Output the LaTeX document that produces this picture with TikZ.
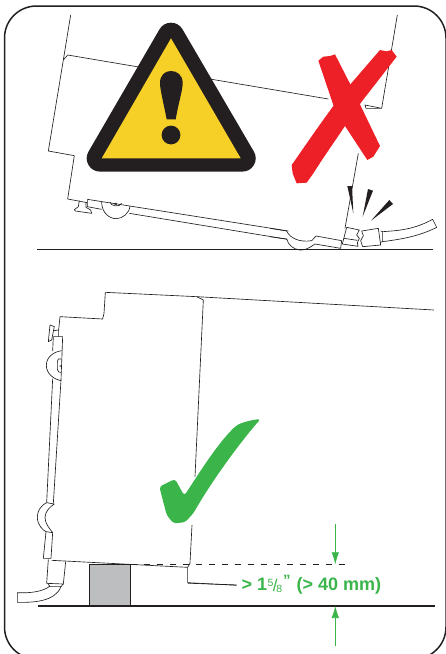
\documentclass[tikz,border=0pt]{standalone}
\usepackage{fontspec}
\setmainfont{Liberation Sans}
\usepackage{xcolor}
\usetikzlibrary{arrows.meta}
\definecolor{inkblack}{HTML}{231F20}
\definecolor{warnyellow}{HTML}{F6D026}
\definecolor{crossred}{HTML}{EE2027}
\definecolor{checkgreen}{HTML}{3BB54A}
\definecolor{blockgrey}{HTML}{BCBEC0}
\tikzset{
  crop/.style 2 args={shift={(#1,#2)},scale=1/3},
  thinline/.style={draw=inkblack,line width=0.65pt,line join=round},
  groundline/.style={draw=inkblack,line width=1.6pt},
  wedge/.style={fill=inkblack,draw=none},
  gapline/.style={draw=inkblack,line width=0.65pt,dash pattern=on 6.5pt off 6.5pt},
  gaparrow/.style={draw=checkgreen,line width=0.7pt,-{Latex[length=12pt,width=7.5pt]}}
}
\newcommand{\fdraw}[1]{\draw[thinline] #1;}
\newcommand{\fracfive}{\raisebox{4pt}{\fontsize{10.5}{10.5}\selectfont\mdseries 5}\kern-0.8pt\raisebox{-0.5pt}{\fontsize{17}{17}\selectfont\mdseries /}\kern-1pt\raisebox{-1.5pt}{\fontsize{10.5}{10.5}\selectfont\mdseries 8}}
\begin{document}
\begin{tikzpicture}[x=1pt,y=-1pt]
\useasboundingbox (0,0) rectangle (445,654);
\draw[draw=inkblack,line width=1.5pt,rounded corners=32pt] (4.5,6) rectangle (446,659);

\begin{scope}[crop={0}{0}]
\fdraw{(212,45) -- (190,180) -- (145,453) -- (223,467) -- (203,597) -- (262,608)}
\fdraw{(190,180) -- (203,165) -- (985,297)}
\fdraw{(1192,45) -- (1145,325) -- (1095,315) -- (1098,325) -- (1145,325)}
\fdraw{(1075,460) -- (1035,685)}
\fdraw{(262,598) -- (865,693)}
\fdraw{(262,598) -- (262,620) -- (305,628)}
\fdraw{(388,640) -- (862,718)}
\fdraw{(305,606) .. controls (305,640) and (330,656) .. (348,656) .. controls (368,656) and (388,640) .. (390,618)}
\fdraw{(330,606) .. controls (332,620) and (360,622) .. (365,610)}
\draw[thinline] (347,612) circle (3pt);
\fdraw{(238,602) -- (235,620) -- (223,629) -- (226,633) -- (275,640) -- (272,630) -- (258,622) -- (258,606)}
\end{scope}

\begin{scope}[crop={270}{170}]
\fdraw{(0,175) -- (50,183) .. controls (60,205) and (90,218) .. (125,212) -- (138,198) -- (215,212) -- (212,235) -- (135,222) .. controls (120,232) and (105,242) .. (90,240) .. controls (70,238) and (55,225) .. (50,207) -- (0,200)}
\fdraw{(230,172) -- (268,180) -- (260,195) -- (268,205) -- (262,218) -- (264,229) -- (217,222) -- (230,172)}
\fdraw{(222,205) -- (262,211)}
\fdraw{(275,183) -- (325,175) -- (332,225) -- (278,230) -- (272,212) -- (280,197) -- (275,183)}
\fdraw{(332,183) -- (338,185) -- (338,215) -- (331,217)}
\fdraw{(338,185) .. controls (380,182) and (430,180) .. (488,148) -- (500,172) .. controls (445,200) and (390,208) .. (338,215)}
\fill[wedge] (232,48) -- (246,48) -- (250,130) -- cycle;
\fill[wedge] (294,57) -- (309,62) -- (278,140) -- cycle;
\fill[wedge] (358,90) -- (369,102) -- (303,152) -- cycle;
\end{scope}

\draw[groundline] (37,249.5) -- (433,249.5);

\fill[inkblack,draw=inkblack,line width=26.6pt,line join=round] (171,36) -- (100,158.3) -- (242.4,158.3) -- cycle;
\fill[warnyellow] (171,38.3) -- (101.7,158.3) -- (240.7,158.3) -- cycle;
\fill[inkblack] (166.7,119.3) .. controls (164,105) and (160,90) .. (160,83) .. controls (160,75) and (165,71) .. (171,71) .. controls (177,71) and (182.7,75) .. (182.7,83) .. controls (182.7,90) and (178,105) .. (175.7,119.3) -- cycle;
\fill[inkblack] (171,135) circle (9.4pt);

\begin{scope}[crop={280}{40}]
\fill[crossred] (115,62) -- (130,50) -- (150,48) -- (165,43) -- (212,135) -- (300,318) -- (280,350) -- (262,360) -- (195,258) -- (160,195) -- cycle;
\fill[crossred] (300,30) -- (320,34) -- (335,30) -- (350,50) -- (245,185) -- (195,258) .. controls (160,310) and (125,360) .. (100,400) -- (80,428) -- (50,430) -- (38,400) -- (35,375) .. controls (60,340) and (100,280) .. (160,198) -- (212,132) -- cycle;
\end{scope}

\begin{scope}[crop={0}{280}]
\fdraw{(316,37) -- (312,100) -- (308,117) -- (180,110) -- (176,150)}
\fdraw{(316,37) -- (590,50) -- (610,60) -- (585,590)}
\fdraw{(576,735) -- (570,850)}
\fdraw{(590,50) -- (1302,90)}
\fdraw{(160,170) -- (188,170) -- (183,300) -- (160,670)}
\fdraw{(160,170) -- (158,213)}
\fdraw{(158,296) -- (140,668)}
\fdraw{(186,212) .. controls (160,215) and (139,232) .. (139,256) .. controls (139,280) and (160,298) .. (184,302)}
\fdraw{(183,237) -- (175,237) -- (172,245) -- (172,268) -- (176,276) -- (183,277)}
\draw[thinline] (181,258) circle (1.3pt);
\fdraw{(150,135) -- (145,185) -- (155,180) -- (163,140) -- (150,135)}
\fdraw{(161,152) -- (176,150) -- (176,170)}
\fdraw{(140,668) .. controls (120,678) and (112,695) .. (112,712) .. controls (112,735) and (130,752) .. (138,755) -- (158,758) .. controls (148,745) and (135,730) .. (135,712) .. controls (135,695) and (150,680) .. (163,672) -- (140,668)}
\fdraw{(158,758) -- (153,835) -- (130,835) -- (138,755)}
\fdraw{(155,841) -- (563,862)}
\fdraw{(145,838) -- (140,910) -- (190,912) -- (197,845)}
\fdraw{(143,910) -- (150,920) -- (183,920) -- (190,912)}
\fdraw{(150,918) .. controls (130,935) and (90,940) .. (52,938) -- (52,967) .. controls (100,968) and (165,965) .. (183,920)}
\fdraw{(570,850) -- (563,862) -- (563,908) -- (710,916)}
\draw[thinline,fill=blockgrey] (269,853) rectangle (391,975);
\end{scope}

\coordinate (gaptop) at (335.3,564.3);
\coordinate (gapend) at (350,564.3);
\coordinate (floorpt) at (335.3,606);
\coordinate (leaderstart) at (188,583.2);
\draw[gapline] (130.5,564.3) -- (gapend);
\draw[groundline] (38,605.7) -- (435,605.7);

\begin{scope}[crop={150}{405}]
\fill[checkgreen,rounded corners=3pt] (28,245) -- (75,222) -- (103,272) .. controls (150,200) and (200,120) .. (255,65) .. controls (275,52) and (305,45) .. (332,42) .. controls (280,100) and (190,220) .. (130,325) -- (105,352) -- (70,355) -- (50,330) -- cycle;
\end{scope}

\node[inner sep=0pt,anchor=base west,text=checkgreen,font=\fontsize{18}{20}\selectfont\bfseries] (gaplabel) at (241.5,590.7) {> 1\kern0.5pt\fracfive\kern0.8pt\raisebox{5pt}{\fontsize{15}{15}\selectfont"}\kern1pt{} (> 40 mm)};
\draw[thinline] (leaderstart) -- ([xshift=-5pt]gaplabel.west);
\draw[gaparrow] (335.3,524) -- (gaptop);
\draw[gaparrow] (335.3,645.7) -- (floorpt);
\end{tikzpicture}
\end{document}
